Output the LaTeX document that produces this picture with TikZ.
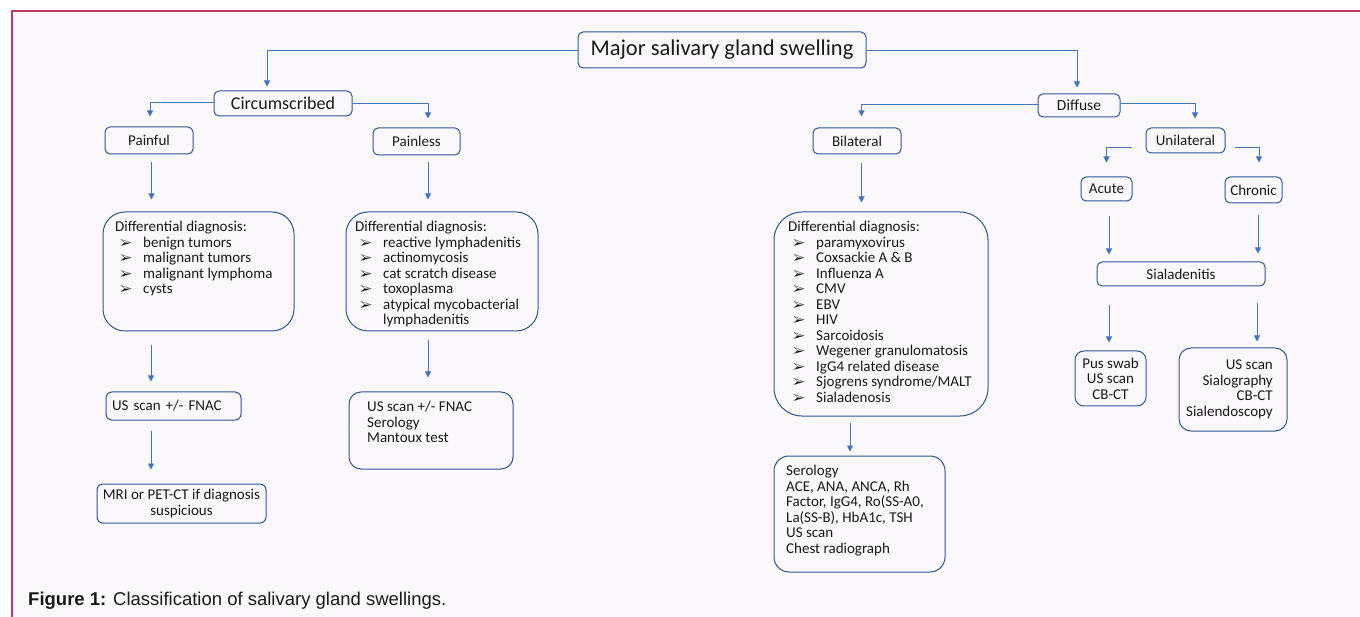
\documentclass[tikz,border=0pt]{standalone}
\usepackage{fontspec}
\setmainfont{Carlito}
\newfontfamily\capfont{Liberation Sans}
\usepackage{pifont}
\usetikzlibrary{positioning}
\usetikzlibrary{arrows.meta}
\definecolor{boxblue}{HTML}{2F5597}
\definecolor{lineblue}{HTML}{4472C4}
\definecolor{framered}{HTML}{C0395E}
\definecolor{panel}{HTML}{FAF8FA}
\definecolor{ink}{HTML}{1A1A1A}
\newcommand{\bul}{\makebox[23pt][l]{\fontsize{13}{13}\selectfont\ding{226}}}
\newcommand{\itm}[1]{\hspace*{5pt}\bul#1}
\tikzset{
    nbox/.style = {rectangle, draw=boxblue, line width=1pt, rounded corners=5pt, fill=panel, text=ink, inner sep=0pt, align=center, font=\fontsize{15}{15.5}\selectfont},
    bigbox/.style = {nbox, rounded corners=22pt},
    listtxt/.style = {anchor=north west, inner sep=0pt, align=left, text=ink, font=\fontsize{15}{15.5}\selectfont},
    conn/.style = {draw=lineblue, line width=0.9pt, -{Triangle[width=6pt,length=6pt]}},
    gaps/.style 2 args = {shorten <=#1, shorten >=#2},
    captxt/.style = {anchor=west, inner sep=0pt, text=ink, font=\capfont\fontsize{18.5}{21}\selectfont}
}
\begin{document}
\begin{tikzpicture}[x=1pt,y=-1pt]
\path[use as bounding box] (0,0) rectangle (1360,617);
\fill[white] (0,0) rectangle (1360,617);
\fill[panel] (12,11) rectangle (1360,617);
\draw[framered, line width=2pt] (12,617) -- (12,11) -- (1360,11);
%
% top levels
\node[nbox, minimum width=288pt, minimum height=36pt, font=\fontsize{22.5}{25}\selectfont] (major) at (722,50) {Major salivary gland swelling};
\node[nbox, minimum width=138pt, minimum height=25pt, font=\fontsize{18}{20}\selectfont] (circ) at (283,103.5) {Circumscribed};
\node[nbox, minimum width=82pt, minimum height=23pt, font=\fontsize{15.5}{17}\selectfont] (diffuse) at (1079,105.5) {Diffuse};
\node[nbox, minimum width=88pt, minimum height=27pt] (painful) at (149,140.5) {Painful};
\node[nbox, minimum width=87pt, minimum height=27pt] (painless) at (416.5,141.5) {Painless};
\node[nbox, minimum width=88pt, minimum height=26pt] (bilat) at (857,141) {Bilateral};
\node[nbox, minimum width=79pt, minimum height=25pt] (unilat) at (1185.5,140.5) {Unilateral};
\node[nbox, minimum width=51pt, minimum height=24pt] (acute) at (1106.5,189) {Acute};
\node[nbox, minimum width=57pt, minimum height=26pt] (chronic) at (1253.5,190) {Chronic};
%
% differential diagnosis
\node[bigbox, minimum width=191pt, minimum height=119pt] (ddpainful) at (198.5,271.5) {};
\node[listtxt] (ddpainfultxt) at (115,221) {Differential diagnosis:\\
  \itm{benign tumors}\\ \itm{malignant tumors}\\ \itm{malignant lymphoma}\\ \itm{cysts}};
\node[bigbox, minimum width=192pt, minimum height=119pt] (ddpainless) at (442,271.5) {};
\node[listtxt] (ddpainlesstxt) at (355,221) {Differential diagnosis:\\
  \itm{reactive lymphadenitis}\\ \itm{actinomycosis}\\ \itm{cat scratch disease}\\ \itm{toxoplasma}\\
  \itm{atypical mycobacterial}\\ \hspace*{28pt}lymphadenitis};
\node[bigbox, rounded corners=28pt, minimum width=214pt, minimum height=204pt] (ddbilat) at (881,314) {};
\node[listtxt] (ddbilattxt) at (788,221) {Differential diagnosis:\\
  \itm{paramyxovirus}\\ \itm{Coxsackie A \& B}\\ \itm{Influenza A}\\ \itm{CMV}\\ \itm{EBV}\\ \itm{HIV}\\
  \itm{Sarcoidosis}\\ \itm{Wegener granulomatosis}\\ \itm{IgG4 related disease}\\
  \itm{Sjogrens syndrome/MALT}\\ \itm{Sialadenosis}};
\node[nbox, minimum width=168pt, minimum height=24pt] (sial) at (1181,274) {Sialadenitis};
%
% investigations
\node[nbox, rounded corners=6pt, minimum width=135pt, minimum height=28pt, text width=123pt, align=left] (usleft) at (173.5,406) {US scan +/- FNAC};
\node[nbox, rounded corners=6pt, minimum width=169pt, minimum height=39pt] (mri) at (181.5,503.5) {MRI or PET-CT if diagnosis\\suspicious};
\node[nbox, rounded corners=12pt, minimum width=164pt, minimum height=77pt] (usright) at (431,430.5) {};
\node[listtxt] (usrighttxt) at (367,401) {US scan +/- FNAC\\ Serology\\ Mantoux test};
\node[nbox, rounded corners=15pt, minimum width=171pt, minimum height=116pt] (serol) at (859.5,514) {};
\node[listtxt] (seroltxt) at (786,465) {Serology\\ ACE, ANA, ANCA, Rh\\ Factor, IgG4, Ro(SS-A0,\\ La(SS-B), HbA1c, TSH\\ US scan\\ Chest radiograph};
\node[nbox, rounded corners=9pt, minimum width=71pt, minimum height=55pt] (pus) at (1110.5,378.5) {Pus swab\\US scan\\CB-CT};
\node[nbox, rounded corners=12pt, minimum width=108pt, minimum height=83pt] (chronres) at (1233,389.5) {};
\node[listtxt, anchor=north east, align=right] (chronrestxt) at (1273,360) {US scan\\Sialography\\CB-CT\\Sialendoscopy};
%
% connectors
\draw[conn, shorten >=4pt] (major.west) -| ([xshift=-16pt]circ.north);
\draw[conn, shorten >=6pt] (major.east) -| ([xshift=-2pt]diffuse.north);
\draw[conn, shorten >=10pt] ([yshift=1.5pt]circ.west) -| ([xshift=1pt]painful.north);
\draw[conn, shorten >=9pt] (circ.east) -| ([xshift=11.5pt]painless.north);
\draw[conn, shorten >=11pt] ([yshift=1.5pt]diffuse.west) -| ([xshift=4.5pt]bilat.north);
\draw[conn, shorten >=9pt] ([yshift=2.5pt]diffuse.east) -| ([xshift=9.5pt]unilat.north);
\draw[conn, gaps={14pt}{14pt}] ([yshift=-6.5pt]unilat.west) -| (acute.north);
\draw[conn, gaps={9pt}{14pt}] ([yshift=-6.5pt]unilat.east) -| ([xshift=5.5pt]chronic.north);
%
\draw[conn, gaps={8pt}{12pt}] ([xshift=2.5pt]painful.south) -- ([xshift=2.5pt]painful.south |- ddpainful.north);
\draw[conn, gaps={7pt}{12pt}] ([xshift=11.5pt]painless.south) -- ([xshift=11.5pt]painless.south |- ddpainless.north);
\draw[conn, gaps={9pt}{9pt}] ([xshift=4.5pt]bilat.south) -- ([xshift=4.5pt]bilat.south |- ddbilat.north);
\draw[conn, gaps={15pt}{7pt}] ([xshift=2.5pt]acute.south) -- ([xshift=2.5pt]acute.south |- sial.north);
\draw[conn, gaps={12pt}{8pt}] ([xshift=4.5pt]chronic.south) -- ([xshift=4.5pt]chronic.south |- sial.north);
\draw[conn, gaps={14pt}{10pt}] ([xshift=2pt]painful.south |- ddpainful.south) -- ([xshift=2pt]painful.south |- usleft.north);
\draw[conn, gaps={10pt}{14pt}] ([xshift=2pt]painful.south |- usleft.south) -- ([xshift=2pt]painful.south |- mri.north);
\draw[conn, gaps={9pt}{14pt}] ([xshift=11.5pt]painless.south |- ddpainless.south) -- ([xshift=11.5pt]painless.south |- usright.north);
\draw[conn, gaps={6pt}{4pt}] ([xshift=-7pt]bilat.south |- ddbilat.south) -- ([xshift=-7pt]bilat.south |- serol.north);
\draw[conn, gaps={19pt}{8pt}] ([xshift=2.5pt]acute.south |- sial.south) -- ([xshift=2.5pt]acute.south |- pus.north);
\draw[conn, gaps={17pt}{6pt}] ([xshift=3.5pt]chronic.south |- sial.south) -- ([xshift=3.5pt]chronic.south |- chronres.north);
%
\node[captxt] (cap) at (28,601) {\textbf{Figure 1:} Classification of salivary gland swellings.};
\end{tikzpicture}
\end{document}
